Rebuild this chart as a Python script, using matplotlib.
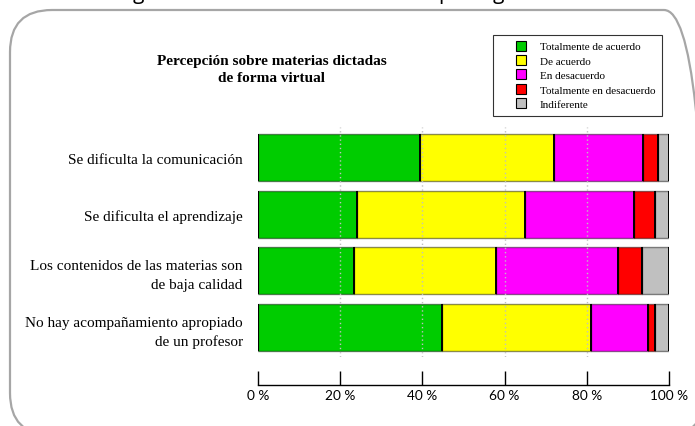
import matplotlib
matplotlib.use("Agg")
import matplotlib.pyplot as plt
from matplotlib.patches import FancyBboxPatch
from matplotlib.lines import Line2D
import numpy as np

# ---------------- data ----------------
categories = [
    "Se dificulta la comunicación",
    "Se dificulta el aprendizaje",
    "Los contenidos de las materias son\nde baja calidad",
    "No hay acompañamiento apropiado\nde un profesor",
]
series_names = [
    "Totalmente de acuerdo",
    "De acuerdo",
    "En desacuerdo",
    "Totalmente en desacuerdo",
    "Indiferente",
]
totalmente_de_acuerdo = [39.4, 24.2, 23.4, 44.8]
de_acuerdo = [32.6, 40.8, 34.6, 36.2]
en_desacuerdo = [21.7, 26.5, 29.7, 14.0]
totalmente_en_desacuerdo = [3.6, 5.1, 5.7, 1.6]
indiferente = [2.7, 3.4, 6.6, 3.4]
series_colors = ["#00CC00", "#FFFF00", "#FF00FF", "#FF0000", "#C0C0C0"]
x_ticks = [0, 20, 40, 60, 80, 100]
x_tick_labels = ["0 %", "20 %", "40 %", "60 %", "80 %", "100 %"]
title = "Percepción sobre materias dictadas\nde forma virtual"

series_values = [totalmente_de_acuerdo, de_acuerdo, en_desacuerdo,
                 totalmente_en_desacuerdo, indiferente]

W, H = 695, 427
fig = plt.figure(figsize=(W / 100, H / 100), dpi=100)

# ---------------- background frame (pixel coords, origin bottom-left) ----------------
bg = fig.add_axes([0, 0, 1, 1], zorder=0)
bg.set_xlim(0, W)
bg.set_ylim(0, H)
bg.axis("off")
frame = FancyBboxPatch((10, -9), 696, 425,
                       boxstyle="round,pad=0,rounding_size=42",
                       facecolor="none", edgecolor="#A6A6A6", linewidth=1.6,
                       transform=bg.transData, clip_on=True)
bg.add_patch(frame)
# heading above the picture (only its descenders are visible)
for ch, xp in [("g", 138), ("p", 445), ("g", 498)]:
    bg.text(xp, H + 1.5, ch, fontsize=15, family="Open Sans", ha="center",
            va="baseline", color="black", clip_on=False)

# ---------------- main axes ----------------
ax = fig.add_axes([258 / W, 1 - 358 / H, 411 / W, 230 / H], zorder=1)
ax.patch.set_alpha(0)
y = np.arange(len(categories))
bar_h = 0.83
left = np.zeros(len(categories))
for vals, name, col in zip(series_values, series_names, series_colors):
    vals = np.asarray(vals)
    ax.barh(y, vals, left=left, height=bar_h, color=col,
            edgecolor=(0, 0, 0, 0.45), linewidth=1.0, zorder=1)
    ax.vlines(left, y - bar_h / 2, y + bar_h / 2, color="black",
              linewidth=1.4, zorder=3)
    left = left + vals
ax.vlines(left, y - bar_h / 2, y + bar_h / 2, color="black",
          linewidth=1.4, zorder=3)

for t in x_ticks[1:-1]:
    ax.axvline(t, color="#C0C0C0", linestyle=(0, (1, 2)), linewidth=1.0, zorder=2)

ax.set_xlim(0, 100)
ax.set_ylim(3.52, -0.54)

for s in ["left", "right", "top"]:
    ax.spines[s].set_visible(False)
ax.spines["bottom"].set_position(("outward", 20))
ax.spines["bottom"].set_linewidth(1.0)

ax.set_xticks(x_ticks)
ax.set_xticklabels(x_tick_labels, family="Lato", fontsize=9.8)
ax.tick_params(axis="x", direction="in", length=10, width=1.0, pad=3)

ax.set_yticks(y)
ax.set_yticklabels(categories, family="Liberation Serif", fontsize=11,
                   linespacing=1.55)
ax.tick_params(axis="y", length=0, pad=11)

# ---------------- title ----------------
fig.text(272 / W, 1 - 70 / H, title, ha="center", va="center",
         family="Liberation Serif", fontweight="bold", fontsize=11,
         linespacing=1.5)

# ---------------- legend ----------------
handles = [Line2D([], [], linestyle="none", marker="s", markersize=7,
                  markerfacecolor=c, markeredgecolor="black",
                  markeredgewidth=0.8) for c in series_colors]
leg = fig.legend(handles, series_names, loc="upper left",
                 bbox_to_anchor=(493 / W, 1 - 36 / H),
                 prop={"family": "Liberation Serif", "size": 8},
                 frameon=True, fancybox=False, edgecolor="black",
                 borderpad=0.6, labelspacing=0.42, handlelength=3.9,
                 handletextpad=-0.3, borderaxespad=0)
leg.get_frame().set_linewidth(0.8)

fig.savefig("out.png", dpi=100)
